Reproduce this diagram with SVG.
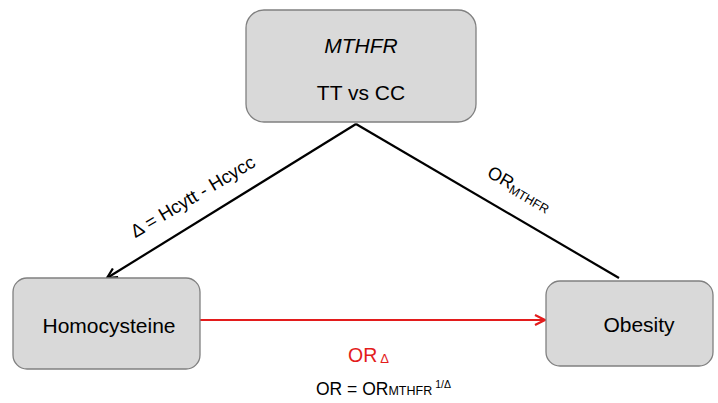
<svg xmlns="http://www.w3.org/2000/svg" width="718" height="403" viewBox="0 0 718 403">
  <style>
    .box { fill: #d9d9d9; stroke: #808080; stroke-width: 1.3; }
    .lbl { font-family: "Liberation Sans", Arial, sans-serif; fill: #000; }
    .red { fill: #e31c1c; }
    .edge { fill: none; stroke-width: 2.2; }
  </style>
  <defs>
    <marker id="arrBlack" viewBox="0 0 12 12" refX="11" refY="6" markerWidth="12" markerHeight="12" markerUnits="userSpaceOnUse" orient="auto">
      <path d="M1,1 L11,6 L1,11" fill="none" stroke="#000" stroke-width="2.2"/>
    </marker>
    <marker id="arrRed" viewBox="0 0 12 12" refX="11" refY="6" markerWidth="12" markerHeight="12" markerUnits="userSpaceOnUse" orient="auto">
      <path d="M1,1 L11,6 L1,11" fill="none" stroke="#e31c1c" stroke-width="2.2"/>
    </marker>
  </defs>

  <rect width="718" height="403" fill="#fff"/>

  <g id="connectors">
    <line class="edge" x1="356" y1="124" x2="107" y2="278" stroke="#000" marker-end="url(#arrBlack)"/>
    <line class="edge" x1="356" y1="124" x2="619" y2="278" stroke="#000"/>
    <line class="edge" x1="200" y1="320" x2="545" y2="320" stroke="#e31c1c" marker-end="url(#arrRed)"/>
  </g>

  <g id="node-mthfr">
    <rect class="box" x="246" y="10" width="230" height="112" rx="18"/>
    <text class="lbl" x="361" y="53" font-size="21" font-style="italic" text-anchor="middle">MTHFR</text>
    <text class="lbl" x="361" y="100" font-size="21" text-anchor="middle">TT vs CC</text>
  </g>

  <g id="node-homocysteine">
    <rect class="box" x="13" y="278" width="187" height="91" rx="14"/>
    <text class="lbl" x="109" y="333" font-size="21" text-anchor="middle">Homocysteine</text>
  </g>

  <g id="node-obesity">
    <rect class="box" x="546" y="281" width="167" height="85" rx="14"/>
    <text class="lbl" x="639" y="332" font-size="21" text-anchor="middle">Obesity</text>
  </g>

  <g id="edge-labels">
    <text class="lbl" font-size="18.5" text-anchor="middle" transform="translate(196,202) rotate(-30.8)">Δ = Hcytt - Hcycc</text>
    <text class="lbl" font-size="18" transform="translate(486,176) rotate(30)">OR<tspan font-size="12.5" dy="3">MTHFR</tspan></text>
    <text class="lbl red" x="348" y="362" font-size="19.5">OR<tspan font-size="13" dx="3" dy="1">Δ</tspan></text>
    <text class="lbl" x="316" y="395" font-size="17.5">OR = OR<tspan font-size="12.5">MTHFR</tspan><tspan font-size="10.5" dx="3" dy="-7">1/Δ</tspan></text>
  </g>
</svg>
